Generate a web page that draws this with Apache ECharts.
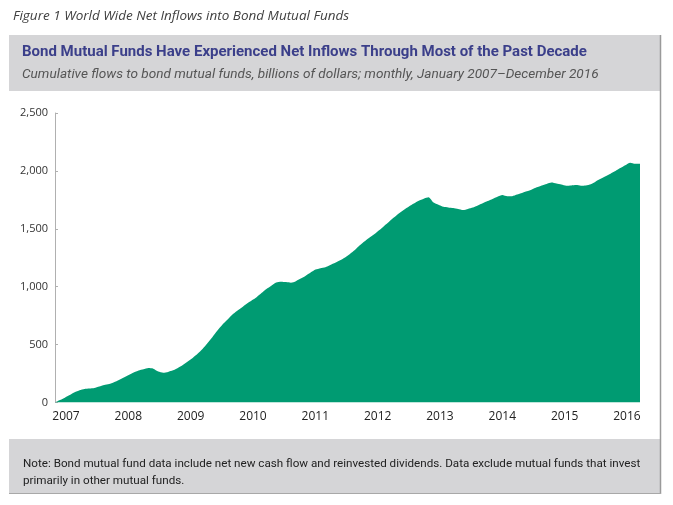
<!DOCTYPE html>
<html>
<head>
<meta charset="utf-8">
<script src="https://cdn.jsdelivr.net/npm/echarts@6/dist/echarts.min.js"></script>
<style>
  html, body { margin: 0; padding: 0; background: #fff; }
  #chart { width: 673px; height: 505px; }
</style>
</head>
<body>
<div id="chart"></div>
<script>
// monthly points, January 2007 - December 2016
const months = []
for (let y = 2007; y <= 2016; y += 1) {
  for (let m = 1; m <= 12; m += 1) months.push(`${y}-${m < 10 ? '0' : ''}${m}`)
}

// cumulative flows, billions of dollars
const flows = [
  0, 21, 42, 65, 89, 106, 117, 120, 125, 139, 152, 160,
  175, 195, 216, 237, 259, 277, 287, 297, 292, 267, 257, 264,
  278, 299, 324, 353, 384, 420, 462, 512, 564, 620, 670, 712,
  756, 790, 821, 853, 881, 909, 945, 980, 1009, 1037, 1043, 1040,
  1035, 1048, 1070, 1095, 1123, 1148, 1160, 1168, 1187, 1206, 1228, 1252,
  1283, 1317, 1357, 1392, 1424, 1455, 1490, 1527, 1564, 1599, 1635, 1665,
  1693, 1718, 1742, 1760, 1773, 1727, 1708, 1690, 1685, 1679, 1671, 1662,
  1672, 1683, 1701, 1720, 1739, 1758, 1777, 1792, 1781, 1782, 1796, 1810,
  1824, 1840, 1858, 1874, 1887, 1899, 1891, 1882, 1871, 1875, 1878, 1872,
  1874, 1884, 1909, 1932, 1953, 1976, 1999, 2024, 2049, 2071, 2062, 2062,
]

const yearLabels = [2007, 2008, 2009, 2010, 2011, 2012, 2013, 2014, 2015, 2016]

const chart = echarts.init(document.getElementById('chart'))

const option = {
  backgroundColor: '#fff',
  animation: false,
  title: [
    {
      text: 'Figure 1 World Wide Net Inflows into Bond Mutual Funds',
      left: 8,
      top: 4,
      textStyle: { fontFamily: 'Open Sans', fontStyle: 'italic', fontWeight: 'normal', fontSize: 13.5, color: '#404040' },
    }, {
      text: 'Bond Mutual Funds Have Experienced Net Inflows Through Most of the Past Decade',
      left: 17,
      top: 40,
      textStyle: { fontFamily: 'Roboto', fontWeight: 'bold', fontSize: 15, color: '#3b3f8a' },
    }, {
      text: 'Cumulative flows to bond mutual funds, billions of dollars; monthly, January 2007–December 2016',
      left: 17,
      top: 63,
      textStyle: { fontFamily: 'Roboto', fontStyle: 'italic', fontWeight: 'normal', fontSize: 13.6, color: '#555' },
    }, {
      text: 'Note: Bond mutual fund data include net new cash flow and reinvested dividends. Data exclude mutual funds that invest\nprimarily in other mutual funds.',
      left: 18,
      top: 451,
      textStyle: { fontFamily: 'Roboto', fontWeight: 'normal', fontSize: 11.65, lineHeight: 17, color: '#222' },
    },
  ],
  graphic: [
    { type: 'rect', z: -10, shape: { x: 9, y: 35, width: 651, height: 56 }, style: { fill: '#d5d5d7' } },
    { type: 'rect', z: -10, shape: { x: 9, y: 439, width: 651, height: 54 }, style: { fill: '#d5d5d7' } },
    { type: 'line', z: -9, shape: { x1: 660.5, y1: 35, x2: 660.5, y2: 494 }, style: { stroke: '#9a9a9a', lineWidth: 1.5 } },
    { type: 'line', z: -9, shape: { x1: 9, y1: 493.5, x2: 661, y2: 493.5 }, style: { stroke: '#a8a8a8', lineWidth: 1.2 } },
  ],
  grid: { left: 55, right: 33, top: 113, bottom: 102.5 },
  xAxis: [
    {
      type: 'category',
      data: months,
      boundaryGap: false,
      axisLine: { show: false },
      axisTick: { show: false },
      axisLabel: { show: false },
    }, {
      // year labels sit where the original chart put them
      type: 'value',
      position: 'bottom',
      min: 2006.8235,
      max: 2016.209,
      axisLine: { show: false },
      axisTick: { show: false },
      splitLine: { show: false },
      axisLabel: {
        customValues: yearLabels,
        formatter: (v) => String(v),
        margin: 8,
        fontFamily: 'Open Sans',
        fontSize: 12,
        color: '#222',
      },
    },
  ],
  yAxis: {
    type: 'value',
    min: 0,
    max: 2500,
    interval: 500,
    axisLine: { show: true, lineStyle: { color: '#b0b0b0', width: 1 } },
    axisTick: { show: true, inside: true, length: 3, lineStyle: { color: '#b0b0b0' } },
    splitLine: { show: false },
    axisLabel: { margin: 7, fontFamily: 'Open Sans', fontSize: 11, color: '#333' },
  },
  series: [
    {
      type: 'line',
      data: flows,
      xAxisIndex: 0,
      smooth: 0.2,
      showSymbol: false,
      lineStyle: { width: 0 },
      areaStyle: { color: '#009b72', opacity: 1 },
    },
  ],
}

chart.setOption(option)
</script>
</body>
</html>
